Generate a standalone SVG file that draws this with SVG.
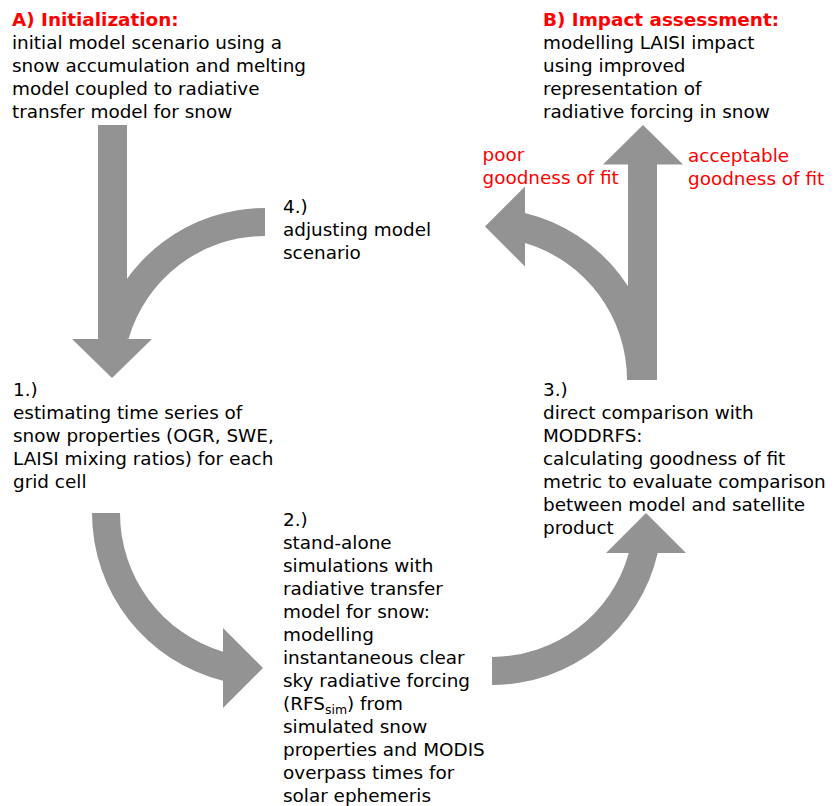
<svg xmlns="http://www.w3.org/2000/svg" width="835" height="806" viewBox="0 0 835 806">
  <style>
    text { font-family: "DejaVu Sans", "Liberation Sans", sans-serif; font-size: 18.4px; fill: #000000; }
    .title { font-weight: bold; fill: #ff0000; }
    .red { fill: #ff0000; }
    .sub { font-size: 12.5px; }
    .arrow { fill: #939393; stroke: none; }
  </style>
  <rect width="835" height="806" fill="#ffffff"/>

  <!-- connectors: thick grey arrows -->
  <g id="connectors" class="arrow">
    <!-- initialization down to step 1 -->
    <rect x="98" y="125" width="29" height="215"/>
    <polygon points="72,339 152,339 112,378"/>
    <!-- step 4 curving back into the down arrow -->
    <path d="M265,208 A170,170 0 0 0 101.6,331.3 L128.5,339 A142,142 0 0 1 265,236 Z"/>
    <!-- step 1 to step 2 -->
    <path d="M92,513 A173,173 0 0 0 223,680.8 L223,651.8 A145,145 0 0 1 120,513 Z"/>
    <polygon points="223,628 223,708 263,668"/>
    <!-- step 2 to step 3 -->
    <path d="M492,685 A170,170 0 0 0 657.7,553 L628.8,553 A142,142 0 0 1 492,657 Z"/>
    <polygon points="606,553 686,553 646,513"/>
    <!-- step 3 to impact assessment (acceptable fit) -->
    <rect x="628" y="164" width="29" height="216"/>
    <polygon points="603,164.5 683,164.5 643,125"/>
    <!-- step 3 to step 4 (poor fit) -->
    <path d="M525,213 A172,172 0 0 1 656,380 L627,380 A143,143 0 0 0 525,243 Z"/>
    <polygon points="525,186.5 525,266.5 485,226.5"/>
  </g>

  <g id="init">
    <text x="12" y="26"><tspan class="title">A) Initialization:</tspan>
      <tspan x="12" dy="23">initial model scenario using a</tspan>
      <tspan x="12" dy="23">snow accumulation and melting</tspan>
      <tspan x="12" dy="23">model coupled to radiative</tspan>
      <tspan x="12" dy="23">transfer model for snow</tspan></text>
  </g>

  <g id="impact">
    <text x="543" y="26"><tspan class="title">B) Impact assessment:</tspan>
      <tspan x="543" dy="23">modelling LAISI impact</tspan>
      <tspan x="543" dy="23">using improved</tspan>
      <tspan x="543" dy="23">representation of</tspan>
      <tspan x="543" dy="23">radiative forcing in snow</tspan></text>
  </g>

  <g id="label-poor">
    <text class="red" x="482.5" y="160.5">poor<tspan x="482.5" dy="23">goodness of fit</tspan></text>
  </g>

  <g id="label-acceptable">
    <text class="red" x="688" y="162">acceptable<tspan x="688" dy="23">goodness of fit</tspan></text>
  </g>

  <g id="step4">
    <text x="283" y="212.7">4.)<tspan x="283" dy="23">adjusting model</tspan><tspan x="283" dy="23">scenario</tspan></text>
  </g>

  <g id="step1">
    <text x="13" y="396">1.)<tspan x="13" dy="23">estimating time series of</tspan><tspan x="13" dy="23">snow properties (OGR, SWE,</tspan><tspan x="13" dy="23">LAISI mixing ratios) for each</tspan><tspan x="13" dy="23">grid cell</tspan></text>
  </g>

  <g id="step2">
    <text x="283" y="526">2.)<tspan x="283" dy="23">stand-alone</tspan><tspan x="283" dy="23">simulations with</tspan><tspan x="283" dy="23">radiative transfer</tspan><tspan x="283" dy="23">model for snow:</tspan><tspan x="283" dy="23">modelling</tspan><tspan x="283" dy="23">instantaneous clear</tspan><tspan x="283" dy="23">sky radiative forcing</tspan><tspan x="283" dy="23">(RFS</tspan><tspan class="sub" dy="4">sim</tspan><tspan dy="-4">) from</tspan><tspan x="283" dy="23">simulated snow</tspan><tspan x="283" dy="23">properties and MODIS</tspan><tspan x="283" dy="23">overpass times for</tspan><tspan x="283" dy="23">solar ephemeris</tspan></text>
  </g>

  <g id="step3">
    <text x="543" y="396">3.)<tspan x="543" dy="23">direct comparison with</tspan><tspan x="543" dy="23">MODDRFS:</tspan><tspan x="543" dy="23">calculating goodness of fit</tspan><tspan x="543" dy="23">metric to evaluate comparison</tspan><tspan x="543" dy="23">between model and satellite</tspan><tspan x="543" dy="23">product</tspan></text>
  </g>
</svg>
